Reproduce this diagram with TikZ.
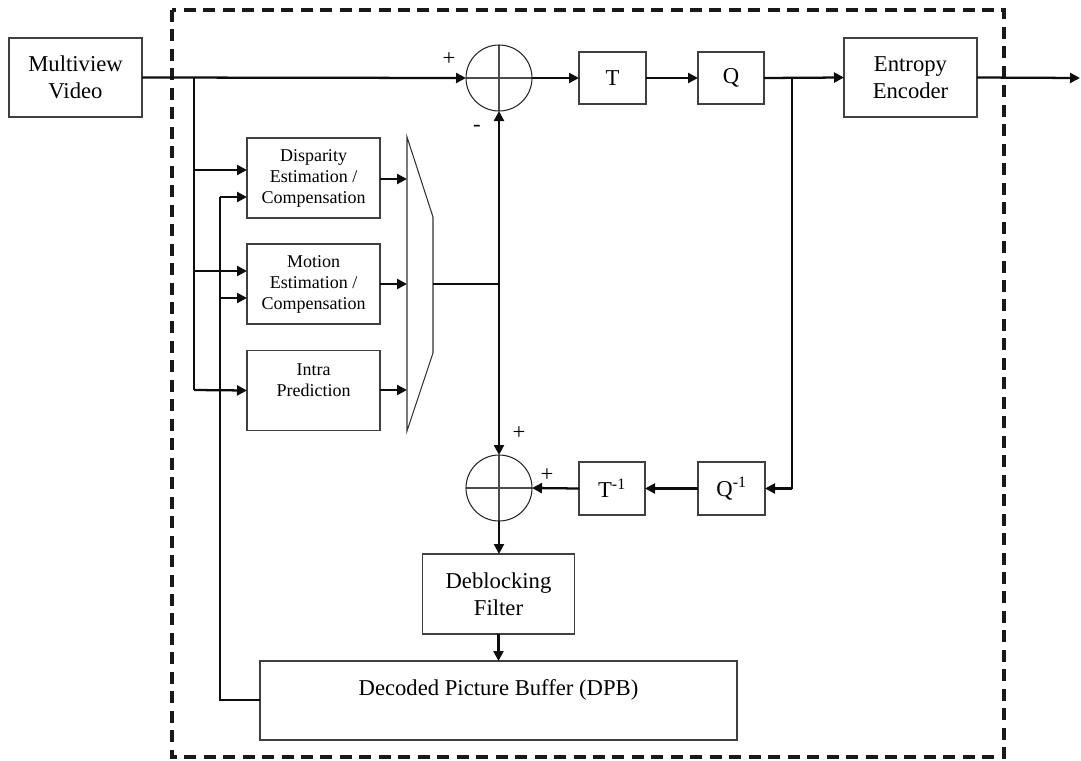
\documentclass[tikz,border=0pt]{standalone}
\usepackage{fontspec}
\setmainfont{Liberation Serif}
\usetikzlibrary{arrows.meta}
\tikzset{
  box/.style={draw=black!75, line width=0.8pt, inner sep=0pt, outer sep=0pt, align=center,
              font=\fontsize{17pt}{20pt}\selectfont},
  smallbox/.style={box, minimum width=99.75pt, minimum height=60pt,
              font=\fontsize{13.5pt}{15.75pt}\selectfont},
  sum/.style={circle, draw=black!85, line width=0.8pt, minimum size=49.5pt, inner sep=0pt, outer sep=0pt,
              path picture={\draw[black!70, line width=0.8pt]
                (path picture bounding box.north) -- (path picture bounding box.south)
                (path picture bounding box.west) -- (path picture bounding box.east);}},
  sig/.style={line width=1.7pt, black!95},
  arr/.style={sig, -{Triangle[length=7.5pt,width=7.5pt]}},
  sign/.style={font=\fontsize{17pt}{20pt}\selectfont, inner sep=0pt},
  frame/.style={line width=2.6pt, black!90, dash pattern=on 9pt off 5.6pt}
}
\begin{document}
\begin{tikzpicture}[x=0.75pt, y=-0.75pt]
\useasboundingbox (0,0) rectangle (1081,760);

% encoder frame
\draw[frame] (172,10) rectangle (1004,757);

% blocks
\node[box, minimum width=99.75pt, minimum height=59.25pt] (mv) at (75.5,77.5) {Multiview\\Video};
\node[sum] (s1) at (499,78) {};
\node[box, minimum width=50.25pt, minimum height=39pt] (T) at (612.5,78) {T};
\node[box, minimum width=49.5pt, minimum height=39pt] (Q) at (731,78) {Q};
\node[box, minimum width=99.75pt, minimum height=59.25pt] (ent) at (910.5,77.5) {Entropy\\Encoder};

\node[smallbox] (disp) at (313.5,178) {Disparity\\Estimation /\\Compensation};
\node[smallbox] (mot) at (313.5,284) {Motion\\Estimation /\\Compensation};
\node[smallbox] (intra) at (313.5,390.5) {Intra\\Prediction\\~};

\node[sum] (s2) at (499,488) {};
\node[box, minimum width=49.5pt, minimum height=39.75pt] (Ti) at (612,488.5) {T\textsuperscript{-1}};
\node[box, minimum width=50.25pt, minimum height=39.75pt] (Qi) at (731.5,488.5) {Q\textsuperscript{-1}};
\node[box, minimum width=114pt, minimum height=60pt] (deb) at (498.5,594) {Deblocking\\Filter};
\node[box, minimum width=357.75pt, minimum height=59.25pt] (dpb) at (498.5,700.5) {Decoded Picture Buffer (DPB)\\~};

% mode selector
\draw[black!80, line width=0.8pt] (407,137) -- (433,217) -- (433,353) -- (407,431) -- cycle;

% named points
\coordinate (jin) at (194,78);
\coordinate (d1) at (247,170);
\coordinate (d2) at (247,197);
\coordinate (m1) at (247,271);
\coordinate (m2) at (247,298);
\coordinate (fb) at (220,700);
\coordinate (dout) at (407,179);
\coordinate (mout) at (407,284);
\coordinate (iout) at (407,390);
\coordinate (muxo) at (433,284);
\coordinate (muxj) at (499,284);
\coordinate (jq) at (792,78);
\coordinate (out) at (1080,78);

% forward path
\draw[arr] (mv.east) -- (s1.west);
\draw[arr] (s1.east) -- (T.west);
\draw[arr] (T.east) -- (Q.west);
\draw[arr] (Q.east) -- (ent.west);
\draw[arr] (ent.east) -- (out);

% input distribution to predictors
\draw[sig] (jin) -- (jin |- iout);
\draw[arr] (jin |- d1) -- (d1);
\draw[arr] (jin |- m1) -- (m1);
\draw[arr] (jin |- iout) -- (intra.west);

% reference pictures from the buffer
\draw[sig] (dpb.west |- fb) -- (fb) -- (fb |- d2);
\draw[arr] (fb |- d2) -- (d2);
\draw[arr] (fb |- m2) -- (m2);

% predictor outputs into selector
\draw[arr] (disp.east |- dout) -- (dout);
\draw[arr] (mot.east |- mout) -- (mout);
\draw[arr] (intra.east |- iout) -- (iout);

% prediction signal
\draw[sig] (muxo) -- (muxj);
\draw[arr] (muxj) -- (s1.south);
\draw[arr] (muxj) -- (s2.north);

% reconstruction loop
\draw[sig] (jq) -- (jq |- Qi.east);
\draw[arr] (jq |- Qi.east) -- (Qi.east);
\draw[arr] (Qi.west) -- (Ti.east);
\draw[arr] (Ti.west) -- (s2.east);
\draw[arr] (s2.south) -- (s2.south |- deb.north);
\draw[arr] (deb.south) -- (deb.south |- dpb.north);

% signs
\node[sign] (p1) at (449,59) {+};
\node[sign] (m1s) at (477,128) {-};
\node[sign] (p2) at (519,433) {+};
\node[sign] (p3) at (547,475) {+};
\end{tikzpicture}
\end{document}
